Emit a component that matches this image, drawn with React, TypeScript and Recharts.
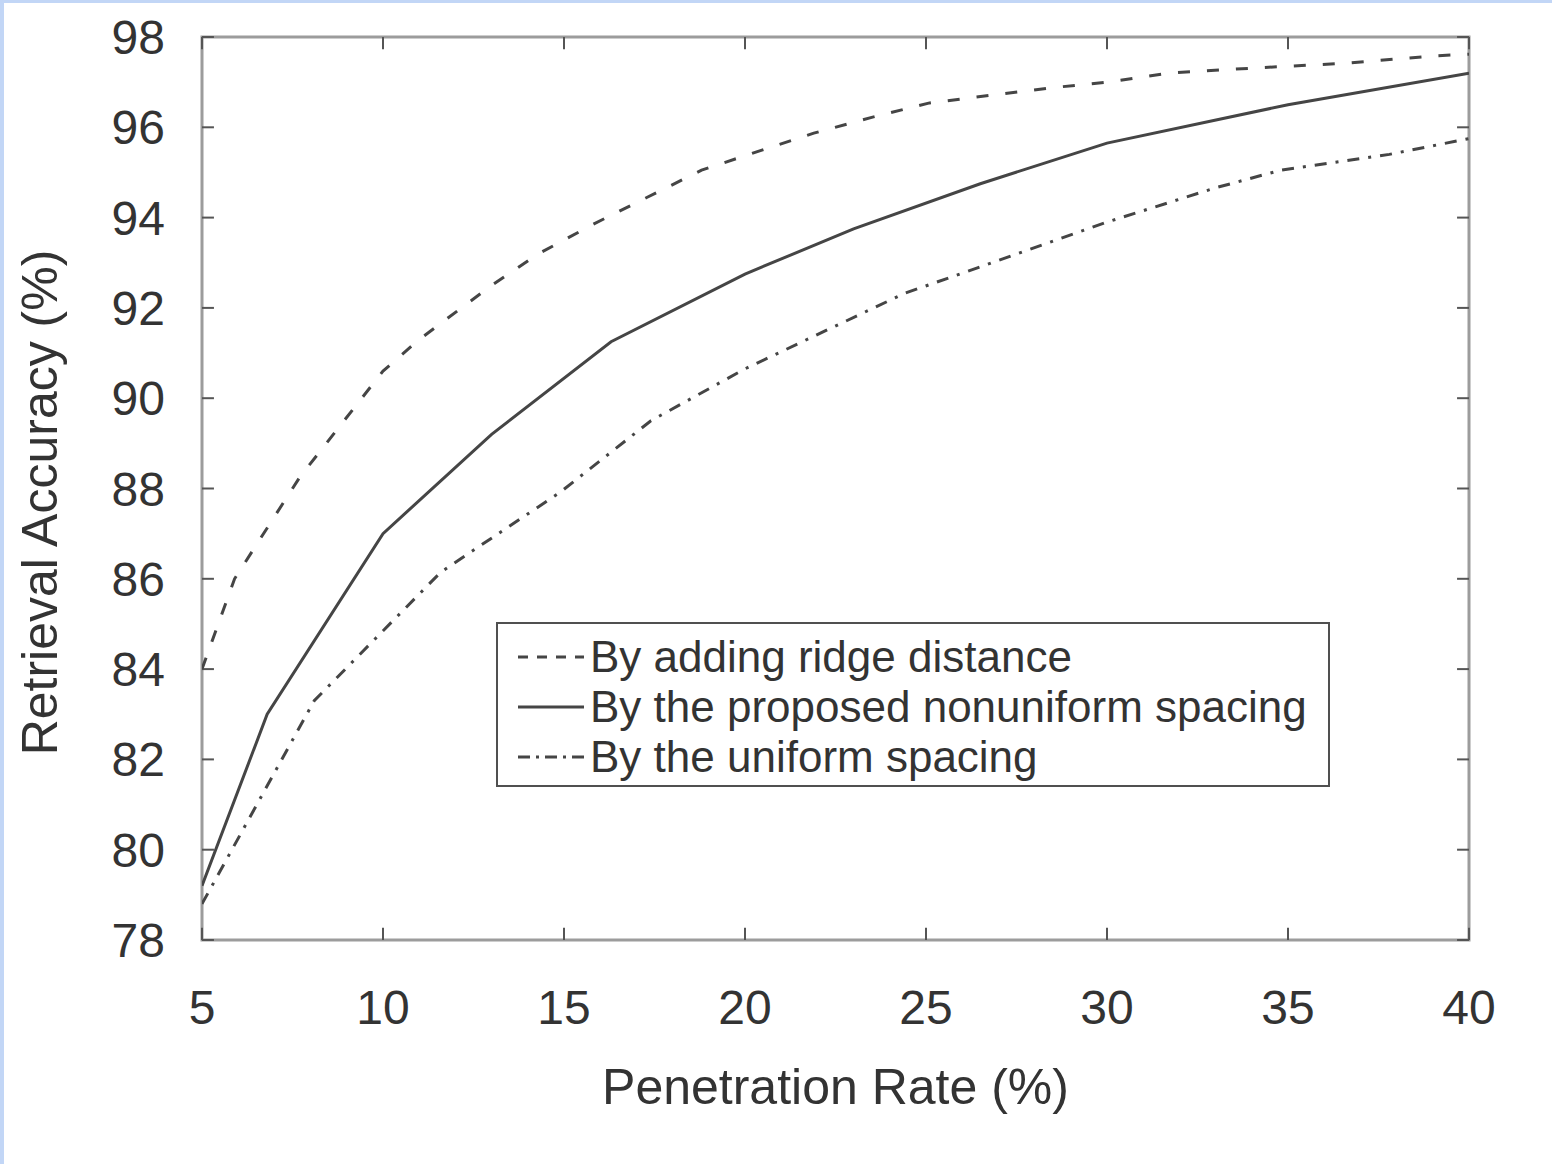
import React from 'react';
import { LineChart, Line, XAxis, YAxis, Legend, ReferenceArea, ReferenceLine } from 'recharts';

const xTicks = [5, 10, 15, 20, 25, 30, 35, 40];
const yTicks = [78, 80, 82, 84, 86, 88, 90, 92, 94, 96, 98];

const seriesNames = [
  'By adding ridge distance',
  'By the proposed nonuniform spacing',
  'By the uniform spacing',
];

const ridgeX = [5, 5.9, 7.7, 10, 11, 13, 14.3, 15.8, 17.3, 18.8, 20.3, 21.9, 23.5, 25.1, 28.4, 30, 31.7, 34, 36.6, 39, 40];
const ridgeY = [84.0, 86.0, 88.25, 90.6, 91.3, 92.5, 93.2, 93.85, 94.45, 95.05, 95.45, 95.87, 96.22, 96.54, 96.87, 97.0, 97.2, 97.31, 97.42, 97.58, 97.62];

const proposedX = [5, 6.8, 10, 13, 16.3, 20, 23, 26.5, 30, 35, 40];
const proposedY = [79.2, 83.0, 87.0, 89.2, 91.25, 92.75, 93.75, 94.75, 95.65, 96.5, 97.2];

const uniformX = [5, 8.1, 11.6, 14.9, 17.4, 20, 24.4, 26.4, 30, 33, 34.8, 37.8, 40];
const uniformY = [78.8, 83.3, 86.15, 87.92, 89.5, 90.65, 92.32, 92.88, 93.9, 94.66, 95.05, 95.4, 95.75];

const X_MIN = 5, X_MAX = 40, Y_MIN = 78, Y_MAX = 98;

const dashes = ['12 17', undefined, '12 9 3 9'];
const legendDashes = ['10 9', undefined, '12 6 3 6'];

const zip = (xs: number[], ys: number[]) => xs.map((x, i) => ({ x, y: ys[i] }));
const seriesData = [zip(ridgeX, ridgeY), zip(proposedX, proposedY), zip(uniformX, uniformY)];

const FONT = '"Liberation Sans", Arial, Helvetica, sans-serif';
const TEXT = '#333';
const LINE = '#454545';
const FRAME = '#9c9c9c';
const TICK = '#555';
const TICK_LEN_Y = 0.27; // inward tick length in y units (~12px)
const TICK_LEN_X = 0.33; // inward tick length in x units (~12px)

const LegendBox = () => (
  <div
    style={{
      boxSizing: 'border-box',
      width: 834,
      height: 165,
      border: '2px solid #505050',
      background: '#fff',
      paddingTop: 8,
      paddingLeft: 20,
      fontFamily: FONT,
      fontSize: 44,
      color: TEXT,
    }}
  >
    {seriesNames.map((n, i) => (
      <div key={n} style={{ height: 50, display: 'flex', alignItems: 'center', whiteSpace: 'nowrap' }}>
        <svg width={66} height={10} style={{ marginRight: 6 }}>
          <line x1={0} y1={5} x2={66} y2={5} stroke={LINE} strokeWidth={3} strokeDasharray={legendDashes[i]} />
        </svg>
        <span style={{ lineHeight: '50px' }}>{n}</span>
      </div>
    ))}
  </div>
);

export default function App() {
  return (
    <div style={{ position: 'absolute', left: 0, top: 0, width: 1552, height: 1164, background: '#fff', overflow: 'hidden' }}>
      <div style={{ position: 'absolute', left: 0, top: 0, width: 1552, height: 3, background: '#c2d6f6' }} />
      <div style={{ position: 'absolute', left: 0, top: 0, width: 4, height: 1164, background: '#c2d6f6' }} />
      <LineChart width={1552} height={1164} margin={{ top: 37, right: 83, bottom: 0, left: 0 }}>
        <XAxis
          dataKey="x"
          type="number"
          domain={[X_MIN, X_MAX]}
          ticks={xTicks}
          interval={0}
          allowDataOverflow
          height={224}
          tickSize={0}
          tickMargin={50}
          axisLine={false}
          tickLine={false}
          tick={{ fill: TEXT, fontSize: 48, fontFamily: FONT }}
          label={{
            value: 'Penetration Rate (%)',
            position: 'insideBottom',
            offset: 60,
            fill: TEXT,
            fontSize: 50,
            fontFamily: FONT,
          }}
        />
        <YAxis
          type="number"
          domain={[Y_MIN, Y_MAX]}
          ticks={yTicks}
          interval={0}
          allowDataOverflow
          width={202}
          tickSize={0}
          tickMargin={37}
          axisLine={false}
          tickLine={false}
          tick={{ fill: TEXT, fontSize: 48, fontFamily: FONT }}
          label={{
            content: (props: any) => {
              const vb = props.viewBox || { x: 0, y: 37, width: 202, height: 903 };
              const cx = vb.x + 57;
              const cy = vb.y + vb.height / 2 + 14;
              return (
                <text
                  x={cx}
                  y={cy}
                  transform={`rotate(-90, ${cx}, ${cy})`}
                  textAnchor="middle"
                  fill={TEXT}
                  fontSize={50}
                  fontFamily={FONT}
                >
                  Retrieval Accuracy (%)
                </text>
              );
            },
          }}
        />
        <ReferenceArea
          x1={X_MIN}
          x2={X_MAX}
          y1={Y_MIN}
          y2={Y_MAX}
          fill="none"
          fillOpacity={0}
          stroke={FRAME}
          strokeWidth={3}
        />
        {xTicks.map((t) => (
          <ReferenceLine
            key={`xb${t}`}
            segment={[{ x: t, y: Y_MIN }, { x: t, y: Y_MIN + TICK_LEN_Y }]}
            stroke={TICK}
            strokeWidth={2}
          />
        ))}
        {xTicks.map((t) => (
          <ReferenceLine
            key={`xt${t}`}
            segment={[{ x: t, y: Y_MAX }, { x: t, y: Y_MAX - TICK_LEN_Y }]}
            stroke={TICK}
            strokeWidth={2}
          />
        ))}
        {yTicks.map((t) => (
          <ReferenceLine
            key={`yl${t}`}
            segment={[{ x: X_MIN, y: t }, { x: X_MIN + TICK_LEN_X, y: t }]}
            stroke={TICK}
            strokeWidth={2}
          />
        ))}
        {yTicks.map((t) => (
          <ReferenceLine
            key={`yr${t}`}
            segment={[{ x: X_MAX, y: t }, { x: X_MAX - TICK_LEN_X, y: t }]}
            stroke={TICK}
            strokeWidth={2}
          />
        ))}
        {seriesData.map((d, i) => (
          <Line
            key={seriesNames[i]}
            data={d}
            dataKey="y"
            name={seriesNames[i]}
            type="linear"
            stroke={LINE}
            strokeWidth={3}
            strokeDasharray={dashes[i]}
            dot={false}
            activeDot={false}
            isAnimationActive={false}
          />
        ))}
        <Legend
          layout="horizontal"
          verticalAlign="middle"
          align="center"
          content={() => <LegendBox />}
          wrapperStyle={{ position: 'absolute', left: 496, top: 622, width: 834, height: 165 }}
        />
      </LineChart>
    </div>
  );
}
